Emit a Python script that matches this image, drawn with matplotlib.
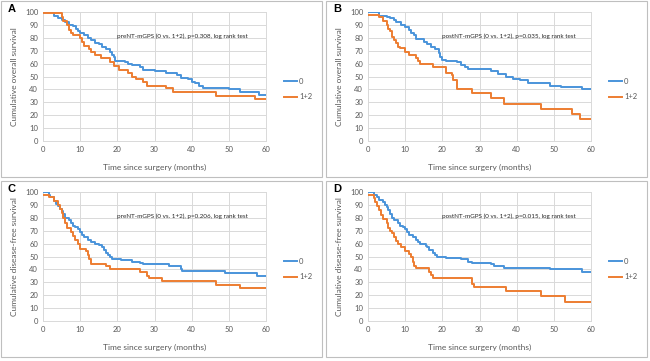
import matplotlib
matplotlib.use("Agg")
import matplotlib.pyplot as plt
from matplotlib.patches import Rectangle

plt.rcParams['font.family'] = ['Lato', 'DejaVu Sans']

# Datos (meses, supervivencia %)
a0_t = [0, 3, 4, 5, 6, 7, 8, 9, 9.5, 10, 11, 12, 13, 14, 15, 16, 17, 18, 18.5, 19, 19.5, 22, 23, 24, 26, 27, 30, 33, 36, 37, 39, 40, 41, 42, 43, 50, 53, 58, 60]
a0_s = [100, 97, 95, 94, 92, 90, 89, 87, 85, 84, 82, 80, 78, 76, 75, 73, 71, 69, 67, 65, 62, 61, 60, 59, 57, 55, 54, 53, 51, 49, 48, 46, 45, 43, 41, 40, 38, 36, 36]
a1_t = [0, 5, 5.5, 6.5, 7, 7.5, 8, 10, 10.5, 11, 12.5, 13, 14, 15.5, 18, 19, 20.5, 23, 24, 25, 27, 28, 33, 35, 46.5, 57, 60]
a1_s = [99, 96, 93, 90, 86, 84, 82, 80, 77, 74, 71, 69, 67, 64, 61, 58, 55, 53, 50, 48, 46, 43, 41, 38, 35, 32.5, 32.5]

b0_t = [0, 3, 5, 6, 7, 7.5, 9, 10, 11, 11.5, 12.5, 13, 15, 16, 17, 18, 19, 19.5, 20, 21, 24, 25, 26, 27, 33, 35, 37, 39, 41, 43, 49, 52, 57.5, 60]
b0_s = [100, 97, 96, 95, 94, 92, 90, 88, 86, 84, 82, 79, 77, 75, 73, 71, 68, 65, 63, 62, 61, 59, 57, 56, 54, 52, 50, 48, 47, 45, 43, 42, 40, 40]
b1_t = [0, 3, 4, 5, 5.5, 6, 6.5, 7, 7.5, 8, 8.5, 10, 11, 13, 13.5, 14, 17.5, 21, 22.5, 23, 24, 28, 33, 36.5, 46.5, 55, 57, 60]
b1_s = [98, 96, 93, 90, 87, 85, 81, 78, 76, 73, 72, 69, 67, 64, 62, 60, 57, 53, 51, 47, 40, 37, 33, 29, 25, 21, 17, 17]

c0_t = [0, 1.5, 2, 3, 3.5, 4, 4.5, 5, 5.5, 6, 7, 7.5, 8, 8.5, 9.5, 10, 10.5, 11, 12, 13, 14, 15, 16, 16.5, 17, 17.5, 18, 18.5, 21, 24, 26, 27, 34, 37, 37.5, 49, 57.5, 60]
c0_s = [100, 98, 96, 93, 91, 89, 87, 85, 83, 80, 78, 76, 74, 73, 71, 69, 67, 65, 63, 61, 60, 59, 57, 55, 53, 51, 50, 48, 47, 46, 45, 44, 43, 40, 39, 37, 35, 35]
c1_t = [0, 1.5, 3, 4, 4.5, 5, 5.5, 6, 6.5, 7.5, 8, 8.5, 9.5, 10, 11.5, 12, 12.5, 13, 17, 18, 26, 28, 28.5, 32, 46.5, 53, 60]
c1_s = [98, 96, 93, 90, 87, 84, 80, 76, 72, 69, 66, 63, 60, 56, 54, 51, 48, 44, 43, 40, 38, 35, 33, 31, 28, 25.5, 25.5]

d0_t = [0, 1.5, 2.5, 3, 4, 4.5, 5, 5.5, 6, 6.5, 7, 8, 8.5, 9.5, 10, 10.5, 11, 12, 13, 13.5, 14, 15.5, 16, 16.5, 17.5, 18, 18.5, 21, 25, 27, 28, 33, 34, 36.5, 49, 57.5, 60]
d0_s = [100, 98, 96, 94, 92, 90, 88, 86, 83, 80, 78, 76, 74, 73, 71, 69, 67, 65, 63, 61, 60, 58, 57, 55, 53, 51, 50, 49, 48, 46, 45, 44, 43, 41, 40, 38, 38]
d1_t = [0, 1.5, 2, 2.5, 3, 3.5, 4, 5, 5.5, 6, 6.5, 7, 7.5, 8, 9, 10, 11, 11.5, 12, 12.5, 13, 16.5, 17, 17.5, 28, 28.5, 37, 46.5, 53, 60]
d1_s = [98, 95, 92, 89, 86, 82, 79, 76, 72, 70, 68, 65, 62, 60, 57, 54, 52, 50, 46, 43, 41, 38, 36, 33, 29, 26, 23, 19, 15, 15]

letras = ['A', 'B', 'C', 'D']
ylabels = ['Cumulative overall survival', 'Cumulative overall survival',
           'Cumulative disease-free survival', 'Cumulative disease-free survival']
textos = ['preNT-mGPS (0 vs. 1+2), p=0.308, log rank test',
          'postNT-mGPS (0 vs. 1+2), p=0.035, log rank test',
          'preNT-mGPS (0 vs. 1+2), p=0.206, log rank test',
          'postNT-mGPS (0 vs. 1+2), p=0.015, log rank test']
series = [(a0_t, a0_s, a1_t, a1_s), (b0_t, b0_s, b1_t, b1_s),
          (c0_t, c0_s, c1_t, c1_s), (d0_t, d0_s, d1_t, d1_s)]

W, H = 650, 361
fig = plt.figure(figsize=(6.5, 3.61), dpi=100)

azul = '#4A94DA'
naranja = '#ED7D31'
gris = '#d9d9d9'
gris_txt = '#595959'

# posiciones en pixeles (offset x, offset y) de cada panel
offsets = [(0, 0), (325, 0), (0, 180), (325, 180)]

for i in range(4):
    ox, oy = offsets[i]
    # marco del panel
    fig.add_artist(Rectangle(((ox + 1) / W, 1 - (oy + 177) / H), 321 / W, 176 / H,
                             transform=fig.transFigure, fill=False,
                             edgecolor='#bfbfbf', linewidth=0.8))
    left = (ox + 43) / W
    bottom = 1 - (oy + 141) / H
    ax = fig.add_axes([left, bottom, 223 / W, 129 / H])

    t0, s0, t1, s1 = series[i]
    ax.step(t0, s0, where='post', color=azul, linewidth=1.4, label='0', zorder=3)
    ax.step(t1, s1, where='post', color=naranja, linewidth=1.4, label='1+2', zorder=3)

    ax.set_xlim(0, 60)
    ax.set_ylim(0, 100)
    ax.set_xticks(range(0, 61, 10))
    ax.set_yticks(range(0, 101, 10))
    ax.grid(True, color=gris, linewidth=0.7)
    ax.set_axisbelow(True)
    for sp in ax.spines.values():
        sp.set_color(gris)
        sp.set_linewidth(0.7)
    ax.tick_params(length=0, labelsize=5.5, labelcolor=gris_txt, pad=3.5)

    ax.set_xlabel('Time since surgery (months)', fontsize=6, color=gris_txt)
    ax.set_ylabel(ylabels[i], fontsize=6, color=gris_txt)
    ax.xaxis.set_label_coords(0.5, -0.18)
    ax.yaxis.set_label_coords(-0.112, 0.5)

    ax.text(0.332, 0.814, textos[i], transform=ax.transAxes, fontsize=4.5,
            color='#262626', va='center', ha='left')

    ax.legend(loc='upper left', bbox_to_anchor=(1.08, 0.49), frameon=False,
              fontsize=5.5, labelcolor=gris_txt, handlelength=1.7,
              handletextpad=0.3, labelspacing=1.1, borderpad=0, borderaxespad=0)

    fig.text((ox + 8) / W, 1 - (oy + 9) / H, letras[i], fontsize=8,
             fontweight='bold', family=['Liberation Sans', 'DejaVu Sans'],
             va='center', ha='left')

fig.savefig('out.png', dpi=100)
